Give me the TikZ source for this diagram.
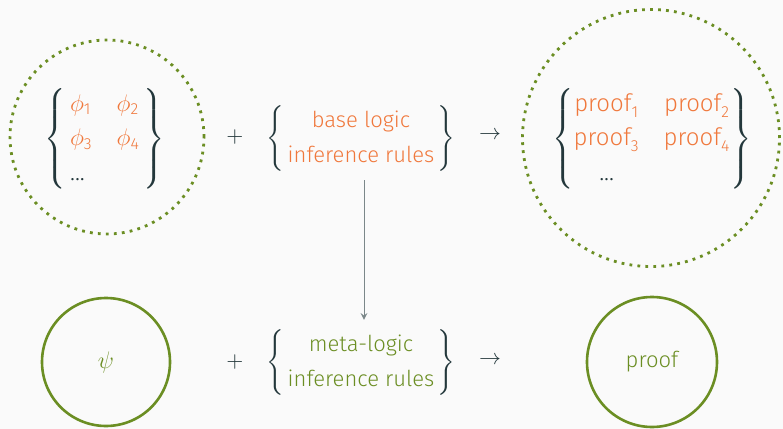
\documentclass[tikz,border=0pt]{standalone}
\usepackage{amsmath}
\usepackage{fontspec}
\setmainfont{Fira Sans Light}
\definecolor{mDarkTeal}{HTML}{23373B}
\definecolor{mOrange}{RGB}{240,120,60}
\definecolor{mGreen}{RGB}{107,142,35}
\definecolor{mBg}{HTML}{FAFAFA}
\newcommand{\orng}[1]{{\color{mOrange}#1}}
\newcommand{\grn}[1]{{\color{mGreen}#1}}
\renewcommand{\arraystretch}{1.35}
\tikzset{
  dotring/.style={circle,draw=mGreen,line width=1.4pt,dash pattern=on 1.4pt off 2.6pt,inner sep=0pt},
  fullring/.style={circle,draw=mGreen,line width=1.3pt,inner sep=0pt},
  bigset/.style={font=\fontsize{12}{14.5}\selectfont\renewcommand{\arraystretch}{1.2}}
}
\begin{document}
\begin{tikzpicture}[x=0.5pt,y=-0.5pt,font=\fontsize{11}{13}\selectfont,text=mDarkTeal]
\fill[mBg] (0,0) rectangle (783,429);
\useasboundingbox (0,0) rectangle (783,429);

\node[dotring,minimum size=97pt] (S) at (107,137) {};
\node[bigset] (Sset) at (105,139) {$\left\{\begin{array}{@{\,}l@{\quad}l@{\,}}\orng{\phi_{\text{1}}} & \orng{\phi_{\text{2}}}\\ \orng{\phi_{\text{3}}} & \orng{\phi_{\text{4}}}\\ \text{...} & \end{array}\right\}$};
\node (P1) at (235,137) {$+$};
\node (B) at (361,138) {$\left\{\begin{array}{@{\,}c@{\,}}\orng{\text{base logic}}\\ \orng{\text{inference rules}}\end{array}\right\}$};
\node (R1) at (490,135) {$\rightarrow$};
\node[dotring,minimum size=128.5pt] (T) at (651,138) {};
\node[bigset] (Tset) at (652,139) {$\left\{\begin{array}{@{}c@{\quad}c@{}}\orng{\text{proof}_{\text{1}}} & \orng{\text{proof}_{\text{2}}}\\ \orng{\text{proof}_{\text{3}}} & \orng{\text{proof}_{\text{4}}}\\ \text{...} & \end{array}\right\}$};

\node[fullring,minimum size=64pt] (X) at (106,362) {\grn{\large$\psi$}};
\node (P2) at (235,362) {$+$};
\node (M) at (361,362) {$\left\{\begin{array}{@{\,}c@{\,}}\grn{\text{meta-logic}}\\ \grn{\text{inference rules}}\end{array}\right\}$};
\node (R2) at (490,360) {$\rightarrow$};
\node[fullring,minimum size=65pt] (Y) at (652,362) {\grn{proof}};

\draw[-stealth,draw=mDarkTeal!60,line width=0.5pt] ([xshift=1.5pt]B.south) -- ([xshift=1.5pt]M.north);
\end{tikzpicture}
\end{document}
